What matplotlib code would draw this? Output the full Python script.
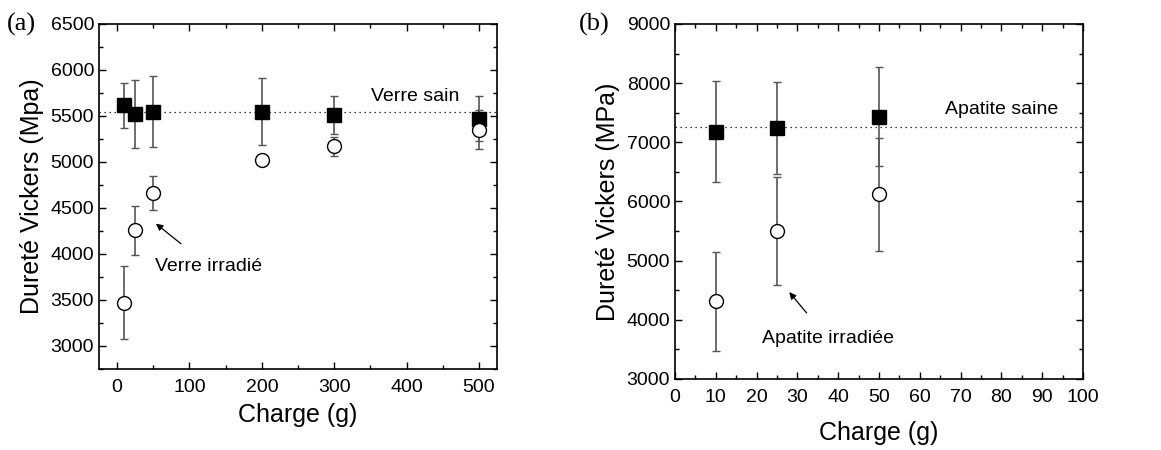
import numpy as np
import matplotlib
matplotlib.use('Agg')
import matplotlib.pyplot as plt
from matplotlib.ticker import MultipleLocator

plt.rcParams['font.family'] = ['Liberation Sans', 'DejaVu Sans']

# panel (a): glass
charge_a = [10, 25, 50, 200, 300, 500]
sain_a = [5618, 5520, 5545, 5545, 5509, 5469]
sain_a_err = [245, 370, 387, 365, 210, 244]
irr_a = [3470, 4258, 4663, 5017, 5169, 5350]
irr_a_err = [398, 268, 184, 0, 100, 213]
ref_a = 5545

# panel (b): apatite
charge_b = [10, 25, 50]
sain_b = [7176, 7244, 7435]
sain_b_err = [853, 780, 833]
irr_b = [4311, 5499, 6118]
irr_b_err = [833, 912, 951]
ref_b = 7250

fig = plt.figure(figsize=(11.61, 4.5), dpi=100)
ax1 = fig.add_axes([0.0853, 0.18, 0.3428, 0.7667])
ax2 = fig.add_axes([0.5814, 0.1578, 0.3514, 0.789])

err_kw = dict(ecolor='#555555', elinewidth=1.2, capsize=3, capthick=1.0, linestyle='none')

for ax, x, s, se, i, ie, ref in [
        (ax1, charge_a, sain_a, sain_a_err, irr_a, irr_a_err, ref_a),
        (ax2, charge_b, sain_b, sain_b_err, irr_b, irr_b_err, ref_b)]:
    ax.axhline(ref, color='black', linestyle=(0, (1, 3)), linewidth=0.9, zorder=1)
    ax.errorbar(x, s, yerr=se, marker='s', markersize=9.5, markerfacecolor='black',
                markeredgecolor='black', zorder=3, **err_kw)
    ax.errorbar(x, i, yerr=ie, marker='o', markersize=10, markerfacecolor='white',
                markeredgecolor='black', markeredgewidth=1.0, zorder=3, **err_kw)
    ax.tick_params(which='both', direction='in', top=True, right=True, labelsize=14)
    ax.tick_params(which='major', length=5, width=1.0)
    ax.tick_params(which='minor', length=3, width=1.0)
    ax.tick_params(axis='x', which='major', pad=7)
    for sp in ax.spines.values():
        sp.set_linewidth(1.2)

ax1.set_xlim(-25, 525)
ax1.set_ylim(2750, 6500)
ax1.xaxis.set_major_locator(MultipleLocator(100))
ax1.xaxis.set_minor_locator(MultipleLocator(50))
ax1.yaxis.set_major_locator(MultipleLocator(500))
ax1.yaxis.set_minor_locator(MultipleLocator(250))
ax1.set_xlabel('Charge (g)', fontsize=18, labelpad=5)
ax1.set_ylabel('Dureté Vickers (Mpa)', fontsize=18, labelpad=5)
ax1.text(412, 5712, 'Verre sain', fontsize=14, ha='center', va='center')
ax1.annotate('Verre irradié', xy=(53.6, 4330), xytext=(127, 3866), fontsize=14,
             ha='center', va='center',
             arrowprops=dict(arrowstyle='-|>', color='black', lw=0.9,
                             shrinkA=13, shrinkB=0, mutation_scale=10))

ax2.set_xlim(0, 100)
ax2.set_ylim(3000, 9000)
ax2.xaxis.set_major_locator(MultipleLocator(10))
ax2.xaxis.set_minor_locator(MultipleLocator(5))
ax2.yaxis.set_major_locator(MultipleLocator(1000))
ax2.yaxis.set_minor_locator(MultipleLocator(500))
ax2.set_xlabel('Charge (g)', fontsize=18, labelpad=11)
ax2.set_ylabel('Dureté Vickers (MPa)', fontsize=18, labelpad=5)
ax2.text(80, 7548, 'Apatite saine', fontsize=14, ha='center', va='center')
ax2.annotate('Apatite irradiée', xy=(28, 4468), xytext=(37.4, 3692), fontsize=14,
             ha='center', va='center',
             arrowprops=dict(arrowstyle='-|>', color='black', lw=0.9,
                             shrinkA=13, shrinkB=0, mutation_scale=10))

fig.text(0.006, 0.945, '(a)', fontsize=19, family='Liberation Serif', va='center')
fig.text(0.499, 0.945, '(b)', fontsize=19, family='Liberation Serif', va='center')

fig.savefig('out.png', dpi=100)
